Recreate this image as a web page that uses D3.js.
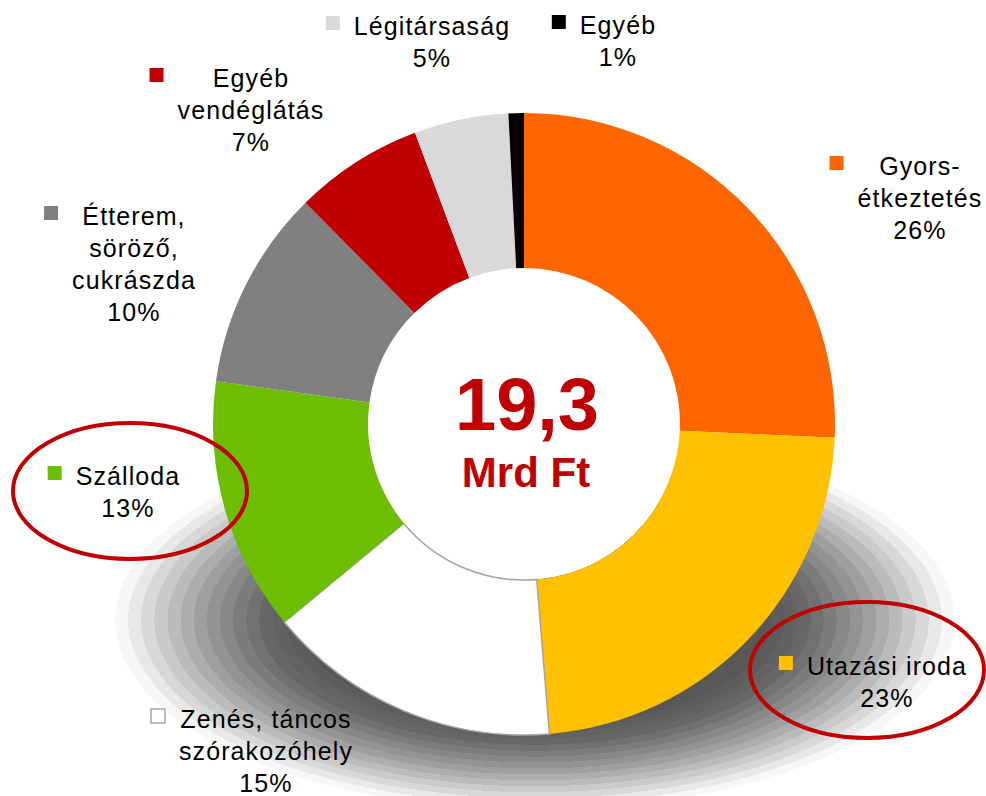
<!DOCTYPE html>
<html>
<head>
<meta charset="utf-8">
<script src="https://cdn.jsdelivr.net/npm/d3@7"></script>
<style>
    body { margin: 0; background: #fff; }
    svg { display: block; }
</style>
</head>
<body>
<svg id="donut_chart"></svg>
<script>
// slices clockwise from 12 o'clock
const categories = ["Gyors-étkeztetés", "Utazási iroda", "Zenés, táncos szórakozóhely", "Szálloda",
    "Étterem, söröző, cukrászda", "Egyéb vendéglátás", "Légitársaság", "Egyéb"];
const shares = [25.7, 23.0, 15.3, 13.2, 10.4, 6.7, 4.9, 0.8];
const labelLines = [["Gyors-", "étkeztetés"], ["Utazási iroda"], ["Zenés, táncos", "szórakozóhely"], ["Szálloda"],
    ["Étterem,", "söröző,", "cukrászda"], ["Egyéb", "vendéglátás"], ["Légitársaság"], ["Egyéb"]];
const sliceColors = ["#FF6600", "#FFC000", "#FFFFFF", "#6DBE00", "#808080", "#C00000", "#D9D9D9", "#000000"];
const totalValue = "19,3";
const totalUnit = "Mrd Ft";
const highlighted = ["Szálloda", "Utazási iroda"];

// label anchor: center x, first baseline
const labelPos = [[920, 175], [887, 675], [266, 728], [128, 485], [134, 225], [251, 87], [432, 35], [618, 34]];

let width = 986,
    height = 796,
    cx = 524,
    cy = 424,
    outerR = 311,
    innerR = 156,
    lineH = 32;

let svg = d3.select("#donut_chart")
    .attr("width", width)
    .attr("height", height);

//#region shadow
let defs = svg.append("defs");
let grad = defs.append("radialGradient").attr("id", "shadowGrad");
let gray = d3.scaleLinear().domain([0, 0.55, 0.65, 0.8, 0.92, 1]).range([80, 88, 105, 160, 215, 255]);
let bands = 16;
grad.append("stop").attr("offset", 0).attr("stop-color", d3.rgb(gray(0), gray(0), gray(0)));
for (let i = 0; i < bands; i++) {
    let t0 = 0.5 + 0.5 * i / bands,
        t1 = 0.5 + 0.5 * (i + 1) / bands,
        g = Math.round(gray((t0 + t1) / 2));
    grad.append("stop").attr("offset", t0).attr("stop-color", d3.rgb(g, g, g));
    grad.append("stop").attr("offset", t1).attr("stop-color", d3.rgb(g, g, g));
}
grad.append("stop").attr("offset", 1).attr("stop-color", "#fff");

svg.append("ellipse")
    .attr("cx", 535)
    .attr("cy", 620)
    .attr("rx", 420)
    .attr("ry", 190)
    .attr("fill", "url(#shadowGrad)");
//#endregion

//#region donut
let pie = d3.pie().sort(null).value(d => d);
let arc = d3.arc().innerRadius(innerR).outerRadius(outerR);

let gDonut = svg.append("g").attr("transform", `translate(${cx},${cy})`);
gDonut.append("circle").attr("r", innerR).attr("fill", "#fff");

gDonut.selectAll("path")
    .data(pie(shares))
    .join("path")
    .attr("d", arc)
    .attr("fill", (d, i) => sliceColors[i])
    .attr("stroke", (d, i) => sliceColors[i] == "#FFFFFF" ? "#A6A6A6" : "none")
    .attr("stroke-width", 1.5);
//#endregion

//#region center text
svg.append("text")
    .attr("x", 527)
    .attr("y", 430)
    .attr("text-anchor", "middle")
    .style("font", "bold 74px 'Liberation Sans', Arial, sans-serif")
    .style("fill", "#C00000")
    .text(totalValue);
svg.append("text")
    .attr("x", 526)
    .attr("y", 487)
    .attr("text-anchor", "middle")
    .style("font", "bold 42px 'Liberation Sans', Arial, sans-serif")
    .style("fill", "#C00000")
    .text(totalUnit);
//#endregion

//#region labels
let gLabels = svg.append("g");
categories.forEach((name, i) => {
    let [lx, ly] = labelPos[i];
    let lines = labelLines[i].concat([Math.round(shares[i]) + "%"]);
    let g = gLabels.append("g");
    let txt = g.append("text")
        .attr("text-anchor", "middle")
        .style("font", "25px 'Liberation Sans', Arial, sans-serif")
        .style("letter-spacing", "1.1px")
        .style("fill", "#000");
    lines.forEach((ln, j) => {
        txt.append("tspan")
            .attr("x", lx)
            .attr("y", ly + j * lineH)
            .text(ln);
    });
    // marker sits left of the widest line
    let maxW = d3.max(txt.selectAll("tspan").nodes(), n => n.getComputedTextLength());
    let color = sliceColors[i];
    g.append("rect")
        .attr("x", lx - maxW / 2 - 14 - 14)
        .attr("y", ly - 19)
        .attr("width", 14)
        .attr("height", 14)
        .attr("fill", color)
        .attr("stroke", color == "#FFFFFF" ? "#A6A6A6" : "none")
        .attr("stroke-width", 1.5);
});
//#endregion

//#region highlight ellipses
let ringPos = { "Szálloda": [130, 491], "Utazási iroda": [867, 670] };
svg.append("g")
    .selectAll("ellipse")
    .data(highlighted)
    .join("ellipse")
    .attr("cx", d => ringPos[d][0])
    .attr("cy", d => ringPos[d][1])
    .attr("rx", 117)
    .attr("ry", 68)
    .attr("fill", "none")
    .attr("stroke", "#C00000")
    .attr("stroke-width", 4);
//#endregion
</script>
</body>
</html>
